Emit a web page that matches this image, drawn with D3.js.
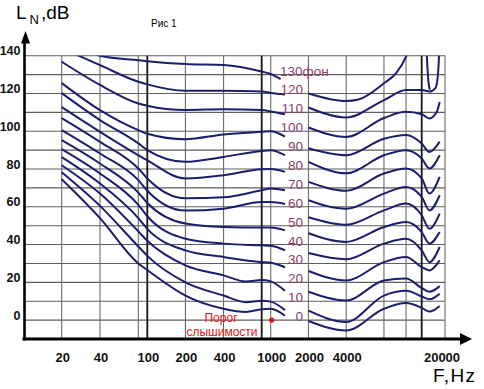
<!DOCTYPE html>
<html lang="ru">
<head>
    <meta charset="UTF-8">
    <title>Рис 1</title>
    <script type="text/javascript" src="https://cdnjs.cloudflare.com/ajax/libs/d3/7.8.5/d3.min.js"></script>
    <style>
        body { margin: 0; background: #fff; }
        svg text { font-family: Arial, "Liberation Sans", sans-serif; }
    </style>
</head>
<body>
<svg id="chart" width="484" height="389"></svg>

<script type="text/javascript">
    // tick labels under the frequency axis (Hz)
    const freqTicks = [20, 40, 100, 200, 400, 1000, 2000, 4000, 20000];
    // vertical grid lines (Hz), the last one is the right border
    const freqGrid = [20, 40, 80, 100, 200, 400, 800, 1000, 2000, 4000, 8000, 12000, 16000, 21000];
    const heavyGrid = [100, 800, 16000];
    // level ticks / grid (dB)
    const levelTicks = [0, 20, 40, 60, 80, 100, 120, 140];
    const levelGrid = [0, 10, 20, 30, 40, 50, 60, 70, 80, 90, 100, 110, 120, 130, 140];

    const phons = [130, 120, 110, 100, 90, 80, 70, 60, 50, 40, 30, 20, 10, 0];

    // equal loudness curves, [Hz, dB]; null = gap (phon label sits there)
    const curve130 = [[20, 152], [40, 140], [80, 137.6], [100, 137.1], [200, 135.6], [400, 135.1], [800, 131.6], [1000, 130.3], [1200, 127.6]];
    const curve120 = [[20, 144], [40, 135], [80, 126.2], [100, 124.8], [200, 121.4], [400, 121.5], [800, 121], [1000, 120.3], [1300, 119.5], null,
        [2000, 120], [4000, 116], [5000, 116.8], [8000, 125.4], [10000, 130.8], [12000, 139.5], [13000, 146], null,
        [16800, 150], [17300, 126], [17600, 122]];
    const curve110 = [[20, 136.8], [40, 124.5], [80, 114.7], [100, 113.5], [200, 111.2], [400, 111.7], [800, 111.2], [1000, 110.5], [1300, 109], null,
        [2000, 112.6], [4000, 107.3], [8000, 116.5], [12000, 121.8], [16000, 121.8], [17500, 121], [18800, 123], [19400, 133], [19700, 150]];
    const curve100 = [[20, 125.5], [40, 111.2], [80, 100.6], [100, 98.7], [200, 95.8], [400, 98.3], [800, 99.7], [1000, 100], [1300, 97.2], null,
        [2000, 102], [4000, 97], [8000, 107], [12000, 110.3], [16000, 109], [17500, 106.8], [19000, 110], [19700, 115.5]];
    const curve90 = [[20, 120.2], [40, 105.9], [80, 93.6], [100, 90], [200, 83.8], [400, 86.4], [800, 89.6], [1000, 90], [1300, 87.3], null,
        [2000, 91], [4000, 87.3], [8000, 96], [12000, 98], [16000, 93.5], [17500, 89], [19700, 94.5]];
    const curve80 = [[20, 112.8], [40, 99.7], [80, 87.3], [100, 84.6], [200, 75], [400, 76.7], [800, 79.9], [1000, 80], [1300, 78.5], null,
        [2000, 83.8], [4000, 77.7], [8000, 87.3], [12000, 90], [16000, 85.6], [17500, 80.3], [19700, 87.3]];
    const curve70 = [[20, 107], [40, 94.4], [80, 80.3], [100, 75], [200, 64.5], [400, 65], [800, 68.8], [1000, 69.7], [1300, 68.8], null,
        [2000, 73.2], [4000, 68.5], [8000, 77.6], [12000, 80.3], [16000, 75], [17500, 67], [19700, 75.8]];
    const curve60 = [[20, 100.6], [40, 88.2], [80, 74.1], [100, 68.5], [200, 58], [400, 59], [800, 62.5], [1000, 62.5], [1300, 61.5], null,
        [2000, 63.5], [4000, 58.9], [8000, 67], [12000, 70.5], [16000, 65.2], [17500, 58.1], [19700, 66.1]];
    const curve50 = [[20, 95.3], [40, 82.9], [80, 67.5], [100, 62], [200, 51.1], [400, 49.3], [800, 49], [1000, 49], [1300, 47.5], null,
        [2000, 54.5], [4000, 50.5], [8000, 58.1], [12000, 61.7], [16000, 55.5], [17500, 48.4], [19700, 56.4]];
    const curve40 = [[20, 90.5], [40, 77.6], [80, 61], [100, 55], [200, 43.1], [400, 40.5], [800, 39.6], [1000, 39.4], [1300, 37], null,
        [2000, 46], [4000, 41.4], [8000, 49.3], [12000, 51.9], [16000, 46.6], [17500, 40.5], [19700, 46.6]];
    const curve30 = [[20, 86.3], [40, 72.3], [80, 54], [100, 48.3], [200, 36.9], [400, 33.4], [800, 30.7], [1000, 30.4], [1300, 28], null,
        [2000, 35.5], [4000, 32.2], [8000, 40.5], [12000, 43.1], [16000, 36.9], [17500, 30.7], [19700, 38.7]];
    const curve20 = [[20, 82], [40, 67], [80, 47], [100, 42], [200, 29], [400, 23.7], [600, 20.5], [800, 21.2], [1000, 20.5], [1300, 15.5], null,
        [2000, 26], [4000, 21], [8000, 30.7], [12000, 33.4], [16000, 28.1], [17500, 26.3], [19700, 31.6]];
    const curve10 = [[20, 78.3], [40, 60.5], [80, 39], [100, 34], [200, 20], [400, 13], [600, 9.5], [800, 10.3], [1000, 9.8], [1300, 5.3], null,
        [2000, 15], [4000, 10.4], [8000, 21], [12000, 22], [16000, 17], [17500, 15], [19700, 18]];
    const curve0 = [[20, 74.6], [40, 54], [80, 30], [100, 26.5], [200, 13], [400, 6], [600, 4.3], [800, 5.8], [1000, 6], [1300, 2.3], null,
        [2000, 5], [4000, -1], [8000, 13], [12000, 15.5], [16000, 12.5], [17500, 11], [19700, 14]];
    const thresholdTail = [[2000, -0.5], [4000, -5.5], [8000, 6], [12000, 9], [16000, 6.5], [17500, 4.5], [19700, 7.5]];

    const curves = [curve130, curve120, curve110, curve100, curve90, curve80, curve70,
        curve60, curve50, curve40, curve30, curve20, curve10, curve0, thresholdTail];

    const svg = d3.select("#chart");

    // hand drawn log axis: a few anchor points, log in between
    const x = d3.scaleLog()
        .domain([20, 80, 100, 800, 1000, 16000, 20000, 21000])
        .range([61.7, 138.3, 147.3, 261.7, 270.7, 421.7, 441, 445]);
    const y = d3.scaleLinear()
        .domain([-10, 140])
        .range([339, 55.7]);

    const x0 = 24.5;
    const xRight = x(21000);

    // grid
    svg.append("g")
        .selectAll("line")
        .data(levelGrid)
        .enter().append("line")
        .attr("x1", x0).attr("x2", xRight)
        .attr("y1", d => y(d)).attr("y2", d => y(d))
        .attr("stroke", "#5e5e5e")
        .attr("stroke-width", 1.1);

    svg.append("g")
        .selectAll("line")
        .data(freqGrid)
        .enter().append("line")
        .attr("x1", d => x(d)).attr("x2", d => x(d))
        .attr("y1", y(140)).attr("y2", y(-10))
        .attr("stroke", d => heavyGrid.includes(d) ? "#151515" : "#6a6a6a")
        .attr("stroke-width", d => heavyGrid.includes(d) ? 1.8 : 1.1);

    // axes with arrows
    svg.append("line")
        .attr("x1", x0).attr("x2", x0)
        .attr("y1", y(-10) + 1.5).attr("y2", 40)
        .attr("stroke", "#000").attr("stroke-width", 2.6);
    svg.append("path")
        .attr("d", "M" + (x0 + 1) + ",31 L" + (x0 + 5.5) + ",43.5 L" + (x0 - 3.5) + ",43.5 Z")
        .attr("fill", "#000");

    svg.append("line")
        .attr("x1", 22.5).attr("x2", 462)
        .attr("y1", y(-10)).attr("y2", y(-10))
        .attr("stroke", "#000").attr("stroke-width", 3);
    svg.append("path")
        .attr("d", "M472," + y(-10) + " L460," + (y(-10) - 6) + " L460," + (y(-10) + 6) + " Z")
        .attr("fill", "#000");

    // curves
    svg.append("clipPath")
        .attr("id", "plot")
        .append("rect")
        .attr("x", x0).attr("y", y(140))
        .attr("width", xRight - x0 + 2).attr("height", y(-10) - y(140));

    const line = d3.line()
        .defined(d => d !== null)
        .x(d => x(d[0]))
        .y(d => y(d[1]))
        .curve(d3.curveMonotoneX);

    svg.append("g")
        .attr("clip-path", "url(#plot)")
        .selectAll("path")
        .data(curves)
        .enter().append("path")
        .attr("d", line)
        .attr("fill", "none")
        .attr("stroke", "#1b1e6c")
        .attr("stroke-width", 2)
        .attr("stroke-linejoin", "round");

    // phon labels
    svg.append("g")
        .selectAll("text")
        .data(phons)
        .enter().append("text")
        .attr("x", d => d === 130 ? 280 : 303)
        .attr("y", d => y(d) + 1)
        .attr("text-anchor", d => d === 130 ? "start" : "end")
        .attr("font-size", "13.5px")
        .attr("fill", "#8e3d6c")
        .text(d => d === 130 ? "130фон" : d);

    // tick labels
    svg.append("g")
        .selectAll("text")
        .data(levelTicks)
        .enter().append("text")
        .attr("x", 20.5)
        .attr("y", d => y(d) - 0.5)
        .attr("text-anchor", "end")
        .attr("font-size", "12.5px")
        .attr("font-weight", "bold")
        .attr("fill", "#111")
        .text(d => d);

    svg.append("g")
        .selectAll("text")
        .data(freqTicks)
        .enter().append("text")
        .attr("x", d => x(d) + 1)
        .attr("y", 362)
        .attr("text-anchor", "middle")
        .attr("font-size", "13px")
        .attr("font-weight", "bold")
        .attr("fill", "#111")
        .text(d => d);

    // axis titles
    const yTitle = svg.append("text")
        .attr("x", 16).attr("y", 19)
        .attr("font-size", "19px")
        .attr("fill", "#000");
    yTitle.append("tspan").text("L");
    yTitle.append("tspan").attr("font-size", "13px").attr("dx", 3).attr("dy", 4.5).text("N");
    yTitle.append("tspan").attr("dx", 2).attr("dy", -4.5).text(",dB");

    svg.append("text")
        .attr("x", 433).attr("y", 382)
        .attr("font-size", "19px")
        .attr("letter-spacing", "1.3px")
        .attr("fill", "#000")
        .text("F,Hz");

    svg.append("text")
        .attr("x", 151).attr("y", 26.5)
        .attr("font-size", "10px")
        .attr("fill", "#000")
        .text("Рис 1");

    // threshold of hearing marker at 1000 Hz, 0 dB
    svg.append("circle")
        .attr("cx", x(1000) + 1).attr("cy", y(0))
        .attr("r", 2.6)
        .attr("fill", "#d4141a");

    const thr = svg.append("text")
        .attr("font-size", "12px")
        .attr("fill", "#e0141a")
        .attr("text-anchor", "middle");
    thr.append("tspan").attr("x", 221).attr("y", 322).text("Порог");
    thr.append("tspan").attr("x", 222).attr("y", 336).text("слышимости");
</script>

</body>
</html>
